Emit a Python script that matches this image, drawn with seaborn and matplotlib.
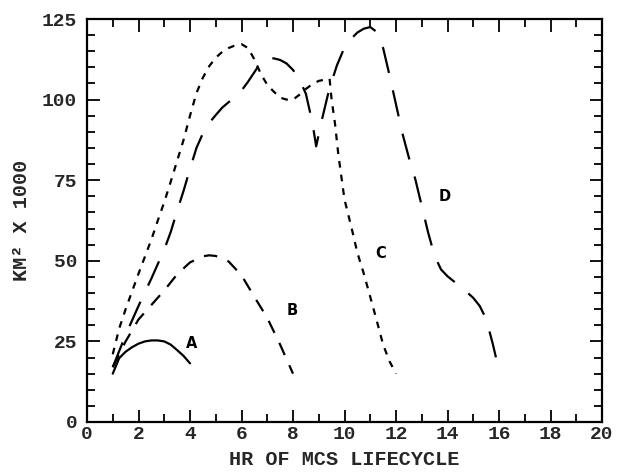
import matplotlib
matplotlib.use("Agg")
import matplotlib.pyplot as plt
import seaborn as sns
import pandas as pd
from matplotlib.ticker import MultipleLocator

# ---- data ----
a_x = [1, 1.25, 1.5, 1.75, 2, 2.25, 2.5, 2.75, 3, 3.25, 3.5, 3.75, 4]
a_y = [15, 19.8, 21.8, 23.2, 24.3, 25, 25.3, 25.3, 25, 24, 22.3, 20.5, 18.2]

b_x = [1, 1.5, 2, 2.5, 3, 3.5, 4, 4.5, 4.75, 5, 5.5, 6, 6.5, 7, 7.5, 8]
b_y = [17, 25, 31.8, 36.3, 40.8, 45.8, 49.5, 51.4, 51.7, 51.5, 49.8, 45.5,
       38.8, 32.3, 24, 15]

c_x = [1, 1.25, 1.5, 1.75, 2, 2.25, 2.5, 2.75, 3, 3.25, 3.5, 3.75, 4, 4.25,
       4.5, 4.75, 5, 5.25, 5.5, 5.75, 6, 6.25, 6.5, 6.75, 7, 7.25, 7.5, 7.75,
       8, 8.25, 8.5, 8.75, 9, 9.3, 9.42, 9.5, 9.63, 9.76, 10, 10.25, 10.5,
       10.75, 11, 11.25, 11.5, 11.75, 12]
c_y = [21, 29, 35, 40.5, 46, 51.3, 56.6, 62.5, 68.2, 74.5, 81, 87.5, 95, 102,
       106.8, 110.4, 113, 114.8, 116, 116.8, 117.2, 116, 112.5, 108, 104.6,
       102.5, 100.6, 100, 100, 101.5, 103.3, 104.8, 105.8, 106.3, 106.5, 100,
       92.6, 83, 69, 61, 52.5, 46, 38.8, 31.5, 24, 18.8, 15]

d_x = [1, 1.5, 2, 2.5, 3, 3.25, 3.5, 3.75, 4, 4.25, 4.5, 4.75, 5, 5.25, 5.5,
       5.75, 6, 6.25, 6.5, 6.75, 7, 7.25, 7.5, 7.75, 8, 8.25, 8.5, 8.75, 8.9,
       9.1, 9.4, 9.7, 10, 10.25, 10.5, 10.75, 11, 11.25, 11.5, 11.75, 12,
       12.25, 12.5, 12.75, 13, 13.25, 13.5, 13.75, 14, 14.25, 14.5, 14.75, 15,
       15.25, 15.5, 15.75, 16]
d_y = [17, 27, 36, 44.5, 53.5, 58.9, 65.5, 71.7, 78.5, 85, 89.5, 92.8, 95.2,
       97.5, 99.2, 100.8, 102.8, 105.5, 108.5, 111.5, 112.6, 112.8, 112.3,
       111.2, 109.2, 106.3, 101.8, 93, 85.5, 93, 103, 110.5, 116.2, 118.8,
       120.8, 122, 122.5, 121, 116, 107.5, 98.5, 89.5, 82, 75.3, 67, 58.7,
       51.5, 47.3, 45.2, 43.6, 42, 40.3, 38.5, 36, 32, 24.5, 16]

series_names = ["A", "B", "C", "D"]
label_pos = {"A": (4.05, 24.5), "B": (7.95, 34.7), "C": (11.4, 52.4), "D": (13.9, 70)}

x_label = "HR OF MCS LIFECYCLE"
y_label = "KM² X 1000"

# ---- build long-form table ----
frames = []
for name, xs, ys in zip(series_names, [a_x, b_x, c_x, d_x], [a_y, b_y, c_y, d_y]):
    frames.append(pd.DataFrame({"hr": xs, "area": ys, "series": name}))
df = pd.concat(frames, ignore_index=True)

sns.set_style("ticks")
plt.rcParams["font.family"] = ["Liberation Mono", "DejaVu Sans Mono", "DejaVu Sans"]

fig = plt.figure(figsize=(6.23, 4.74), dpi=100)
ax = fig.add_axes([87 / 623, 1 - 422 / 474, (602 - 87) / 623, (422 - 19) / 474])

dash_map = {"A": "", "B": (6, 5), "C": (3, 3.2), "D": (12, 8)}
sns.lineplot(data=df, x="hr", y="area", style="series", dashes=dash_map,
             color="black", linewidth=1.6, estimator=None, sort=True,
             legend=False, ax=ax)

for name in series_names:
    lx, ly = label_pos[name]
    ax.text(lx, ly, name, ha="center", va="center", fontsize=10.5,
            fontweight="bold", color="black", family="DejaVu Sans")

ax.set_xlim(0, 20)
ax.set_ylim(0, 125)
ax.xaxis.set_major_locator(MultipleLocator(2))
ax.xaxis.set_minor_locator(MultipleLocator(1))
ax.yaxis.set_major_locator(MultipleLocator(25))
ax.yaxis.set_minor_locator(MultipleLocator(5))
ax.tick_params(which="both", direction="in", top=True, right=True,
               width=1.3, color="black")
ax.tick_params(which="major", length=9, labelsize=14)
ax.tick_params(which="minor", length=6)
ax.tick_params(axis="x", which="major", pad=3)
ax.tick_params(axis="y", which="major", pad=7)
for lbl in ax.get_xticklabels() + ax.get_yticklabels():
    lbl.set_fontweight("bold")
for sp in ax.spines.values():
    sp.set_visible(True)
    sp.set_linewidth(1.6)
    sp.set_color("black")

ax.set_xlabel(x_label, fontsize=14.5, fontweight="bold", labelpad=5)
ax.set_ylabel(y_label, fontsize=14.5, fontweight="bold", labelpad=8)

fig.savefig("out.png", dpi=100, facecolor="white")
